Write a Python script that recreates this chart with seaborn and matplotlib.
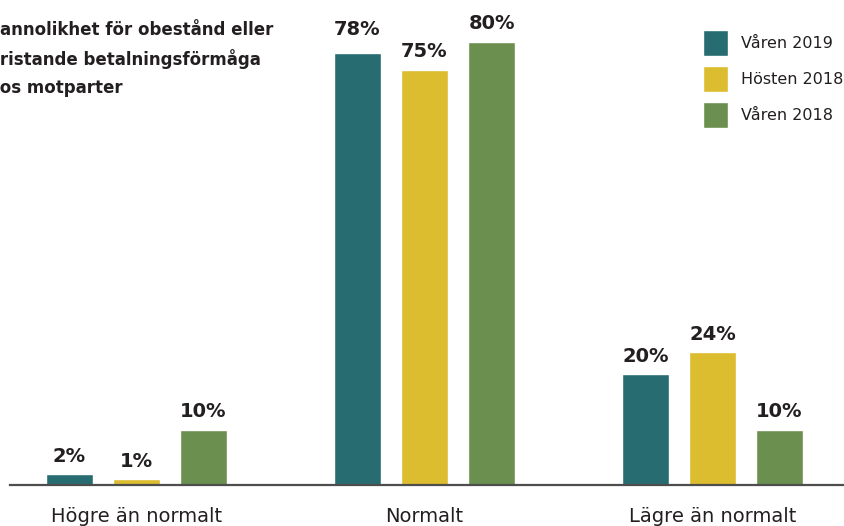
import matplotlib
matplotlib.use("Agg")
import matplotlib.pyplot as plt
import seaborn as sns
import pandas as pd

# Data
categories = ["Högre än normalt", "Normalt", "Lägre än normalt"]
periods = ["Våren 2019", "Hösten 2018", "Våren 2018"]
varen_2019 = [2, 78, 20]
hosten_2018 = [1, 75, 24]
varen_2018 = [10, 80, 10]
colors = ["#276c71", "#dcbd2f", "#6a8f4f"]
title_lines = ["Sannolikhet för obestånd eller",
               "bristande betalningsförmåga",
               "hos motparter"]

rows = []
for period, values in zip(periods, [varen_2019, hosten_2018, varen_2018]):
    for cat, v in zip(categories, values):
        rows.append({"Kategori": cat, "Period": period, "Andel": v})
df = pd.DataFrame(rows)

sns.set_style("white")
plt.rcParams["font.family"] = ["DejaVu Sans"]
TXT = "#231f20"

W, H = 844, 526
fig = plt.figure(figsize=(W / 100, H / 100), dpi=100)
# axes placed in pixel terms: baseline at y=485 px, 5.54 px per percent
px_per_unit = 5.54
ymax = 85
left_px, right_px = 10, 844
base_px = 485
ax = fig.add_axes([left_px / W, (H - base_px) / H,
                   (right_px - left_px) / W, ymax * px_per_unit / H])

sns.barplot(data=df, x="Kategori", y="Andel", hue="Period",
            hue_order=periods, order=categories, palette=colors,
            width=0.698, gap=0.2985, errorbar=None, saturation=1,
            ax=ax, legend=True)

ax.set_ylim(0, ymax)
ax.set_xlim((left_px - 136.5) / 288, (right_px - 136.5) / 288)

for cont, values in zip(ax.containers, [varen_2019, hosten_2018, varen_2018]):
    texts = ax.bar_label(cont, labels=[f"{v}%" for v in values], padding=6,
                         fontsize=14, fontweight="bold", color=TXT)
    for t, v in zip(texts, values):
        # the 78 % label sits a little higher above its bar
        if v == 78:
            t.xyann = (0, 10)

for s in ["top", "left", "right"]:
    ax.spines[s].set_visible(False)
ax.spines["bottom"].set_color("#4d4d4d")
ax.spines["bottom"].set_linewidth(1.6)
ax.set_yticks([])
ax.set_xlabel("")
ax.set_ylabel("")
ax.tick_params(axis="x", length=0, pad=15.5, labelsize=14, labelcolor=TXT)

handles, labels = ax.get_legend_handles_labels()
ax.legend(handles, labels, loc="upper left",
          bbox_to_anchor=(703 / W, 1 - 30 / H), bbox_transform=fig.transFigure,
          frameon=False, borderpad=0, borderaxespad=0,
          handlelength=1.56, handleheight=2.1, handletextpad=0.8,
          labelspacing=0.64, fontsize=11.5, labelcolor=TXT)

for i, line in enumerate(title_lines):
    fig.text(-12 / W, 1 - (30 + 29 * i) / H, line, ha="left", va="center",
             fontsize=12, fontweight="bold", color=TXT)

fig.savefig("out.png", dpi=100)
